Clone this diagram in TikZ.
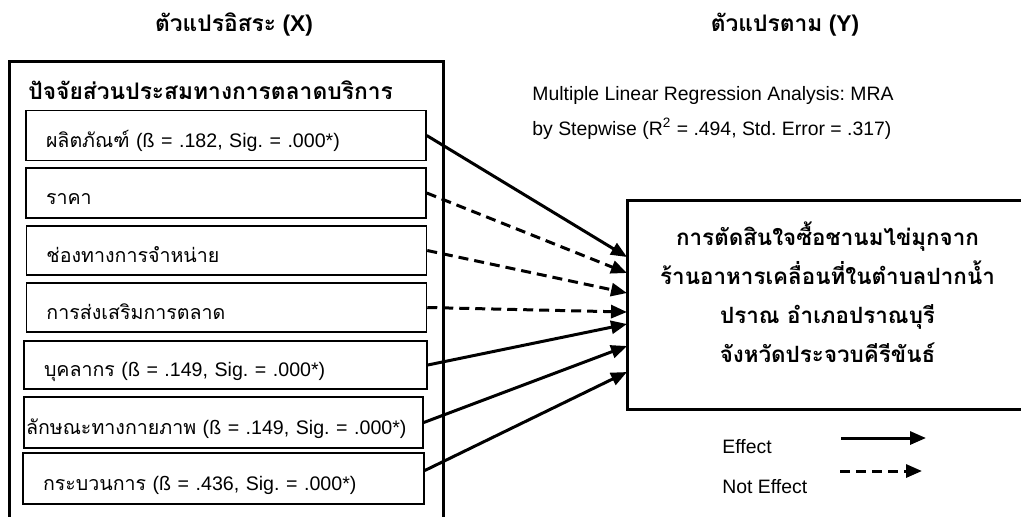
\documentclass[tikz,border=0pt]{standalone}
\usepackage{fontspec}
\setmainfont{Liberation Sans}
\newfontfamily\thai[Script=Thai]{Loma}
\usetikzlibrary{arrows.meta}
\frenchspacing
\tikzset{
    factor/.style ={
        shape=rectangle,
        draw=black,
        line width=0.75pt,
        minimum height=25pt,
        inner xsep=10pt,
        text width=180pt,
        align=left,
        text height=12pt,
        text depth=0.5pt,
        font=\fontsize{9.8}{11}\selectfont
    },
    target/.style ={
        shape=rectangle,
        draw=black,
        line width=1.5pt,
        minimum width=200.5pt,
        minimum height=104.5pt,
        align=center,
        text depth=12pt,
        font=\thai\bfseries\fontsize{11.2}{19.5}\selectfont
    },
    heading/.style ={
        anchor=base,
        font=\bfseries\fontsize{11.4}{13}\selectfont
    },
    note/.style ={
        anchor=base west,
        inner sep=0pt,
        font=\fontsize{9.7}{12}\selectfont
    },
    effect/.style ={
        line width=1.5pt,
        -{Triangle[length=8pt,width=6.5pt]}
    },
    noeffect/.style ={
        effect,
        dash pattern=on 5pt off 3pt
    }
}
\begin{document}
\begin{tikzpicture}[x=0.5pt,y=-0.5pt]
    \clip (0,0) rectangle (1021,516);
    \node[heading] (xhead) at(234,31) {{\thai ตัวแปรอิสระ} (X)};
    \node[heading] (yhead) at(785,31) {{\thai ตัวแปรตาม} (Y)};
    \draw[line width=1.5pt] (9,61) rectangle (443,530);
    \node[note, font=\thai\bfseries\fontsize{11.4}{14}\selectfont] (mixtitle) at(28,99) {ปัจจัยส่วนประสมทางการตลาดบริการ};
    \node[factor] (f1) at(226,135.5) {{\thai ผลิตภัณฑ์} (ß = .182, Sig. = .000*)};
    \node[factor] (f2) at(226,193) {\thai ราคา};
    \node[factor, minimum height=24.5pt] (f3) at(226.5,250.5) {\thai ช่องทางการจำหน่าย};
    \node[factor, minimum height=24.5pt] (f4) at(226.5,307.5) {\thai การส่งเสริมการตลาด};
    \node[factor, minimum height=24pt, text width=181.5pt] (f5) at(225.5,365) {{\thai บุคลากร} (ß = .149, Sig. = .000*)};
    \node[factor, minimum height=25.5pt, inner xsep=1pt, text width=197.5pt] (f6) at(223.5,422.5) {{\thai ลักษณะทางกายภาพ} (ß = .149, Sig. = .000*)};
    \node[factor, minimum height=25.5pt, text width=180.5pt] (f7) at(223.5,478.5) {{\thai กระบวนการ} (ß = .436, Sig. = .000*)};
    \node[note] (mra) at(532,100) {Multiple Linear Regression Analysis: MRA};
    \node[note] (stepwise) at(532,135) {by Stepwise (R\textsuperscript{2} = .494, Std. Error = .317)};
    \node[target] (dv) at(827.5,304.5) {การตัดสินใจซื้อชานมไข่มุกจาก\\ร้านอาหารเคลื่อนที่ในตำบลปากน้ำ\\ปราณ อำเภอปราณบุรี\\จังหวัดประจวบคีรีขันธ์};
    \coordinate (t1) at(627,257);
    \coordinate (t2) at(627,273);
    \coordinate (t3) at(627,293);
    \coordinate (t4) at(627,312);
    \coordinate (t5) at(627,324);
    \coordinate (t6) at(627,346);
    \coordinate (t7) at(627,372);
    \draw[effect] (f1.east) -- (t1);
    \draw[noeffect] (f2.east) -- (t2);
    \draw[noeffect] (f3.east) -- (t3);
    \draw[noeffect] (f4.east) -- (t4);
    \draw[effect] (f5.east) -- (t5);
    \draw[effect] (f6.east) -- (t6);
    \draw[effect] ([yshift=4pt]f7.east) -- (t7);
    \node[note] (eff) at(722,453) {Effect};
    \node[note] (noeff) at(722,493) {Not Effect};
    \coordinate (e1) at(841,438);
    \coordinate (e2) at(926,438);
    \coordinate (n1) at(840,471);
    \coordinate (n2) at(922,471);
    \draw[effect] (e1) -- (e2);
    \draw[noeffect] (n1) -- (n2);
\end{tikzpicture}
\end{document}
